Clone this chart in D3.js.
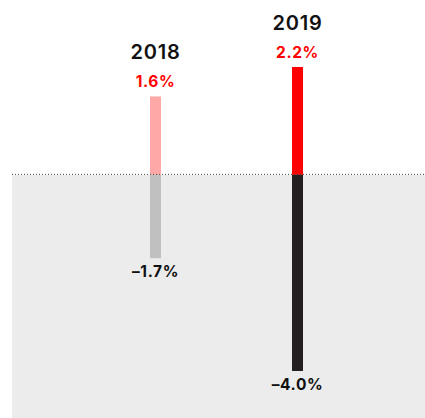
<!DOCTYPE html>
<html>
<head>
<meta charset="utf-8">
<script src="https://cdn.jsdelivr.net/npm/d3@7"></script>
<style>
  html, body { margin: 0; padding: 0; background: #fff; }
  svg { display: block; font-family: Inter, "Noto Sans", sans-serif; }
</style>
</head>
<body>
<div id="chart"></div>
<script>
// Data
const years = ["2018", "2019"];
const gains = [1.6, 2.2];
const losses = [-1.7, -4.0];
const gainColors = ["#ffa8a8", "#ff0000"];
const lossColors = ["#c0c0c0", "#231f20"];

const width = 425, height = 418;
const barW = 11;

const svg = d3.select("#chart").append("svg")
    .attr("width", width)
    .attr("height", height);

// bar centres
const x = d3.scalePoint()
    .domain(years)
    .range([155.5, 297.5]);

const y = d3.scaleLinear()
    .domain([-4.0, 2.2])
    .range([371, 67]);

// Negative area background
svg.append("rect")
    .attr("x", 12)
    .attr("y", y(0))
    .attr("width", width - 12)
    .attr("height", height - y(0))
    .attr("fill", "#ececec");

const data = years.map((yr, i) => ({ year: yr, gain: gains[i], loss: losses[i], gc: gainColors[i], lc: lossColors[i] }));

// Positive bars
svg.selectAll(".gain")
    .data(data)
    .enter().append("rect")
    .attr("class", "gain")
    .attr("x", d => x(d.year) - barW / 2)
    .attr("y", d => y(d.gain))
    .attr("width", barW)
    .attr("height", d => y(0) - y(d.gain))
    .attr("fill", d => d.gc);

// Negative bars
svg.selectAll(".loss")
    .data(data)
    .enter().append("rect")
    .attr("class", "loss")
    .attr("x", d => x(d.year) - barW / 2)
    .attr("y", y(0))
    .attr("width", barW)
    .attr("height", d => y(d.loss) - y(0))
    .attr("fill", d => d.lc);

// Dotted zero line
svg.append("line")
    .attr("x1", 12)
    .attr("x2", width)
    .attr("y1", y(0) - 0.5)
    .attr("y2", y(0) - 0.5)
    .attr("stroke", "#444")
    .attr("stroke-width", 1)
    .attr("stroke-dasharray", "1,2");

const fmt = v => (v < 0 ? "\u2013" : "") + Math.abs(v).toFixed(1) + "%";

// Year labels
svg.selectAll(".year")
    .data(data)
    .enter().append("text")
    .attr("x", d => x(d.year))
    .attr("y", d => y(d.gain) - 37)
    .attr("text-anchor", "middle")
    .style("font-size", "20px")
    .style("font-weight", "600")
    .style("letter-spacing", "0.8px")
    .style("fill", "#111")
    .text(d => d.year);

// Positive labels
svg.selectAll(".gain-label")
    .data(data)
    .enter().append("text")
    .attr("x", d => x(d.year))
    .attr("y", d => y(d.gain) - 9)
    .attr("text-anchor", "middle")
    .style("font-size", "15.5px")
    .style("font-weight", "700")
    .style("letter-spacing", "0.6px")
    .style("fill", "#ff0000")
    .text(d => fmt(d.gain));

// Negative labels
svg.selectAll(".loss-label")
    .data(data)
    .enter().append("text")
    .attr("x", d => x(d.year))
    .attr("y", d => y(d.loss) + 18.5)
    .attr("text-anchor", "middle")
    .style("font-size", "15.5px")
    .style("font-weight", "700")
    .style("letter-spacing", "0.6px")
    .style("fill", "#111")
    .text(d => fmt(d.loss));
</script>
</body>
</html>
